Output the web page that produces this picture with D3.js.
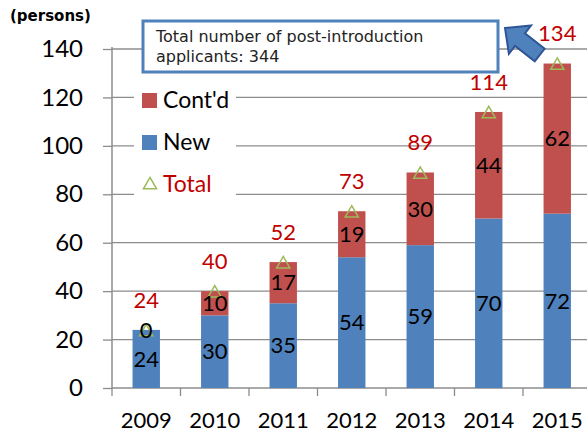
<!DOCTYPE html>
<html><head><meta charset="utf-8">
<script src="https://cdn.jsdelivr.net/npm/d3@7"></script>
<style>body{margin:0;background:#fff;overflow:hidden}</style>
</head><body>
<svg id="c" width="587" height="435"></svg>
<script>
const years = ["2009","2010","2011","2012","2013","2014","2015"];
const newVals = [24,30,35,54,59,70,72];
const contVals = [0,10,17,19,30,44,62];
const totalVals = [24,40,52,73,89,114,134];
const yTicks = [0,20,40,60,80,100,120,140];

const svg = d3.select("#c");
const pLeft = 112, pRight = 591.5, pTop = 49, pBottom = 388;
const x = d3.scaleBand().domain(years).range([pLeft, pRight]).paddingInner(0.6).paddingOuter(0.3);
const y = d3.scaleLinear().domain([0,140]).range([pBottom, pTop]);
const numFont = "Lato, 'Open Sans', sans-serif";

// gridlines
svg.append("g").selectAll("line").data(yTicks.filter(d=>d>0)).join("line")
  .attr("x1", pLeft).attr("x2", 587).attr("y1", d=>y(d)).attr("y2", d=>y(d))
  .attr("stroke", "#8c8c8c").attr("stroke-width", 1.3);

// axes
const yAxis = d3.axisLeft(y).tickValues(yTicks).tickSize(9).tickPadding(20);
const gy = svg.append("g").attr("transform", `translate(${pLeft},0)`).call(yAxis);
gy.select(".domain").attr("stroke", "#8c8c8c").attr("stroke-width", 1.5).attr("d", `M0,${pBottom}V${pTop-2}`);
gy.selectAll(".tick line").attr("stroke", "#8c8c8c").attr("stroke-width", 1.3);
gy.selectAll(".tick text").attr("font-family", numFont).attr("font-size", 24).attr("fill", "#000");

const xAxis = d3.axisBottom(x).tickSize(0).tickPadding(23);
const gx = svg.append("g").attr("transform", `translate(0,${pBottom})`).call(xAxis);
gx.select(".domain").attr("stroke", "#8c8c8c").attr("stroke-width", 1.5).attr("d", `M${pLeft},0H587`);
gx.selectAll(".tick text").attr("font-family", numFont).attr("font-size", 22).attr("fill", "#000").attr("dy", "0.75em");
// category separators
const sepX = years.map((d,i)=> pLeft + i*(pRight-pLeft)/years.length);
svg.append("g").selectAll("line").data(sepX.concat([pRight])).join("line")
  .attr("x1", d=>d).attr("x2", d=>d).attr("y1", pBottom).attr("y2", pBottom+8)
  .attr("stroke", "#8c8c8c").attr("stroke-width", 1.3);

// bars
const bars = svg.append("g");
bars.selectAll(".n").data(years).join("rect")
  .attr("x", d=>x(d)).attr("width", x.bandwidth())
  .attr("y", (d,i)=>y(newVals[i])).attr("height", (d,i)=>y(0)-y(newVals[i]))
  .attr("fill", "#4f81bd");
bars.selectAll(".c").data(years).join("rect")
  .attr("x", d=>x(d)).attr("width", x.bandwidth())
  .attr("y", (d,i)=>y(newVals[i]+contVals[i])).attr("height", (d,i)=>y(newVals[i])-y(newVals[i]+contVals[i]))
  .attr("fill", "#c0504d");

// triangles
const tri = d3.symbol().type(d3.symbolTriangle).size(75);
svg.append("g").selectAll("path").data(years).join("path")
  .attr("d", tri)
  .attr("transform", (d,i)=>`translate(${x(d)+x.bandwidth()/2},${y(totalVals[i])+2})`)
  .attr("fill", "none").attr("stroke", "#9bbb59").attr("stroke-width", 1.5);

// data labels
const lbl = svg.append("g").attr("font-family", numFont).attr("font-size", 22).attr("text-anchor", "middle");
lbl.selectAll(".nl").data(years).join("text")
  .attr("x", d=>x(d)+x.bandwidth()/2)
  .attr("y", (d,i)=>y(newVals[i]/2)).attr("dy", "0.35em").attr("fill", "#000")
  .text((d,i)=>newVals[i]);
lbl.selectAll(".cl").data(years).join("text")
  .attr("x", d=>x(d)+x.bandwidth()/2)
  .attr("y", (d,i)=>y(newVals[i]+contVals[i]/2)).attr("dy", "0.35em").attr("fill", "#000")
  .text((d,i)=>contVals[i]);
lbl.selectAll(".tl").data(years).join("text")
  .attr("x", d=>x(d)+x.bandwidth()/2)
  .attr("y", (d,i)=>y(totalVals[i])-30).attr("dy", "0.35em").attr("fill", "#c00000")
  .text((d,i)=>totalVals[i]);

// legend
const lg = svg.append("g");
lg.append("rect").attr("x", 134).attr("y", 84).attr("width", 102).attr("height", 117).attr("fill", "#fff");
const legendItems = [{t:"Cont'd", c:"#c0504d", yy:100, type:"sq", tc:"#000"},
                     {t:"New", c:"#4f81bd", yy:142, type:"sq", tc:"#000"},
                     {t:"Total", c:"#9bbb59", yy:184, type:"tri", tc:"#c00000"}];
legendItems.forEach(it=>{
  if (it.type==="sq") lg.append("rect").attr("x", 142).attr("y", it.yy-7).attr("width", 15).attr("height", 15).attr("fill", it.c);
  else lg.append("path").attr("d", d3.symbol().type(d3.symbolTriangle).size(75)).attr("transform", `translate(150,${it.yy+1})`).attr("fill","none").attr("stroke", it.c).attr("stroke-width",1.5);
  lg.append("text").attr("x", 163).attr("y", it.yy).attr("dy", "0.35em").attr("font-family", numFont).attr("font-size", 23).attr("fill", it.tc).text(it.t);
});

// unit label
svg.append("text").attr("x", 10).attr("y", 21).attr("font-family", "'DejaVu Sans', Verdana, sans-serif").attr("font-weight", "bold").attr("font-size", 15).attr("fill", "#000").text("(persons)");

// annotation box
svg.append("rect").attr("x", 143).attr("y", 21).attr("width", 355).attr("height", 51).attr("fill", "#fff").attr("stroke", "#4f81bd").attr("stroke-width", 3);
const at = svg.append("text").attr("font-family", "'DejaVu Sans', Verdana, sans-serif").attr("font-size", 16).attr("fill", "#222");
at.append("tspan").attr("x", 156).attr("y", 42).text("Total number of post-introduction");
at.append("tspan").attr("x", 156).attr("y", 62).text("applicants: 344");

// arrow pointing up-left
const arrowPts = [[0,0],[19,-18],[19,-8],[44,-8],[44,8],[19,8],[19,18]];
svg.append("polygon").attr("points", arrowPts.map(p=>p.join(",")).join(" "))
  .attr("transform", "translate(505,28) rotate(38)")
  .attr("fill", "#4f81bd").attr("stroke", "#2f5597").attr("stroke-width", 2).attr("stroke-linejoin", "miter");
</script>
</body></html>
